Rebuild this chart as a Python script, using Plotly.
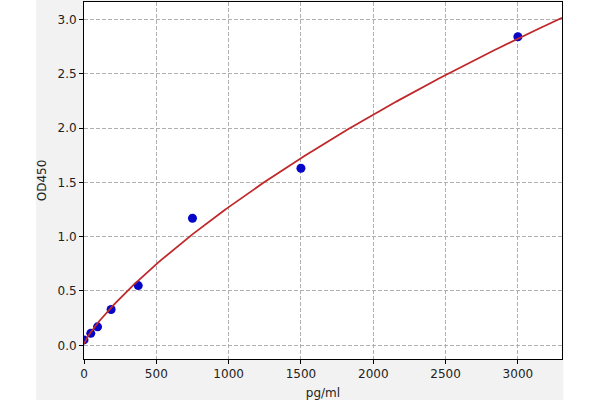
import numpy as np
import plotly.graph_objects as go

# data
conc = [0, 46.875, 93.75, 187.5, 375, 750, 1500, 3000]
od = [0.05, 0.11, 0.17, 0.33, 0.55, 1.17, 1.63, 2.84]
x_ticks = [0, 500, 1000, 1500, 2000, 2500, 3000]
y_ticks = [0.0, 0.5, 1.0, 1.5, 2.0, 2.5, 3.0]

# fitted standard curve: four-parameter logistic, least squares
# (a, d linear; grid search over slope b and inflection c)
xa = np.array(conc, dtype=float)
ya = np.array(od, dtype=float)
best = None
for b in np.linspace(0.4, 2.5, 211):
    for c in np.logspace(2, 6, 401):
        g = 1.0 / (1.0 + (xa / c) ** b)
        A = np.column_stack([g, 1.0 - g])
        coef, *_ = np.linalg.lstsq(A, ya, rcond=None)
        err = np.sum((A @ coef - ya) ** 2)
        if best is None or err < best[0]:
            best = (err, b, c, coef)
_, b_fit, c_fit, (a_fit, d_fit) = best
xfit = np.linspace(0, 3305, 400)
yfit = d_fit + (a_fit - d_fit) / (1.0 + (xfit / c_fit) ** b_fit)

fig = go.Figure()
fig.add_trace(go.Scatter(x=conc, y=od, mode="markers",
                         marker=dict(color="#0606c8", size=9, line=dict(width=0)),
                         cliponaxis=True, showlegend=False))
fig.add_trace(go.Scatter(x=xfit, y=yfit, mode="lines",
                         line=dict(color="#c0282a", width=1.8),
                         showlegend=False))

font = dict(family="DejaVu Sans", size=12, color="#222222")
fig.update_layout(
    width=600, height=400,
    margin=dict(l=84, r=38, t=2, b=41),
    paper_bgcolor="white", plot_bgcolor="white",
    font=font,
    shapes=[
        dict(type="rect", xref="paper", yref="paper", x0=-0.1005, x1=1.0027, y0=-0.12, y1=1.01,
             fillcolor="#f2f2f2", line=dict(width=0), layer="below"),
        dict(type="rect", xref="paper", yref="paper", x0=0, x1=1, y0=0, y1=1,
             fillcolor="white", line=dict(width=0), layer="below"),
    ],
)
fig.update_xaxes(range=[0, 3305], tickvals=x_ticks, showgrid=True, gridcolor="#b0b0b0",
                 griddash="4px,2px", gridwidth=1, showline=True, linecolor="black", linewidth=1,
                 mirror=True, ticks="outside", ticklen=4, tickcolor="black", zeroline=False,
                 title=dict(text="pg/ml", standoff=8, font=font))
fig.update_yaxes(range=[-0.126, 3.16], tickvals=y_ticks, tickformat=".1f", showgrid=True,
                 gridcolor="#b0b0b0", griddash="4px,2px", gridwidth=1, showline=True,
                 linecolor="black", linewidth=1, mirror=True, ticks="outside", ticklen=4,
                 tickcolor="black", zeroline=False,
                 title=dict(text="OD450", standoff=8, font=font))
fig.write_html("out.html", config={"displayModeBar": False},
               post_script="document.body.style.margin='0';")
